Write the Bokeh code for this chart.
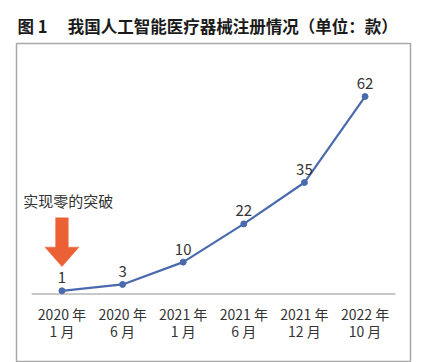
from bokeh.plotting import figure
from bokeh.models import FactorRange, Range1d, CategoricalAxis, ColumnDataSource
from bokeh.core.properties import value
from bokeh.embed import file_html
from bokeh.resources import INLINE

# ---- data ----
categories = ["2020 年\n1 月", "2020 年\n6 月", "2021 年\n1 月",
              "2021 年\n6 月", "2021 年\n12 月", "2022 年\n10 月"]
counts = [1, 3, 10, 22, 35, 62]
title_text = "图 1 \u3000我国人工智能医疗器械注册情况（单位：款）"
note_text = "实现零的突破"

FONT = "Noto Sans CJK SC"
LINE_COLOR = "#4A6AAE"
TEXT_COLOR = "#333333"
ARROW_COLOR = "#EC6035"

p = figure(frame_width=394, frame_height=318,
           x_range=FactorRange(factors=categories, range_padding=0.25,
                               range_padding_units="absolute"),
           y_range=Range1d(-21.2, 78.65),
           x_axis_location=None, y_axis_location=None,
           output_backend="svg", toolbar_location=None,
           min_border_left=16, min_border_right=13,
           min_border_top=43, min_border_bottom=1)
p.grid.grid_line_color = None
p.outline_line_color = "#A8A8A8"
p.outline_line_width = 1.5
p.background_fill_color = "white"
p.border_fill_color = "white"

p.title.text = title_text
p.title.text_font = FONT
p.title.text_font_size = "16.5px"
p.title.text_font_style = "bold"
p.title.text_color = "#1a1a1a"
p.title.align = "left"
p.title.offset = 1
p.title.standoff = 11

# x axis inside the frame, at y = 0
xaxis = CategoricalAxis(fixed_location=0)
xaxis.axis_line_color = None
xaxis.major_tick_line_color = None
xaxis.minor_tick_line_color = None
xaxis.major_tick_out = 0
xaxis.major_tick_in = 0
xaxis.major_label_standoff = 10
xaxis.major_label_text_font = FONT
xaxis.major_label_text_font_size = "14px"
xaxis.major_label_text_line_height = 0.85
xaxis.major_label_text_color = TEXT_COLOR
p.add_layout(xaxis, "below")

# baseline covering the category band
p.segment(x0=[(categories[0], -0.5)], y0=[0],
          x1=[(categories[-1], 0.5)], y1=[0],
          line_color="#C8C8C8", line_width=2)

src = ColumnDataSource(dict(x=categories, y=counts, lbl=[str(v) for v in counts]))
p.line("x", "y", source=src, line_color=LINE_COLOR, line_width=2.2)
p.scatter("x", "y", source=src, size=6, color=LINE_COLOR)
p.text("x", "y", text="lbl", source=src, y_offset=-13,
       text_align="center", text_baseline="middle",
       text_font=value(FONT), text_font_size="15px", text_color=TEXT_COLOR)

# annotation: arrow + note near the first point
c0 = categories[0]
ax = [(c0, -0.104), (c0, 0.104), (c0, 0.104), (c0, 0.28), (c0, 0.0),
      (c0, -0.28), (c0, -0.104)]
ay = [23.9, 23.9, 14.7, 14.7, 8.6, 14.7, 14.7]
p.patch(ax, ay, fill_color=ARROW_COLOR, line_color=ARROW_COLOR, line_width=0.5)

p.text(x=[(c0, -0.64)], y=[29.4], text=[note_text],
       text_align="left", text_baseline="middle",
       text_font=value(FONT), text_font_size="15px", text_color=TEXT_COLOR)

open("out.html", "w").write(file_html(p, INLINE))
